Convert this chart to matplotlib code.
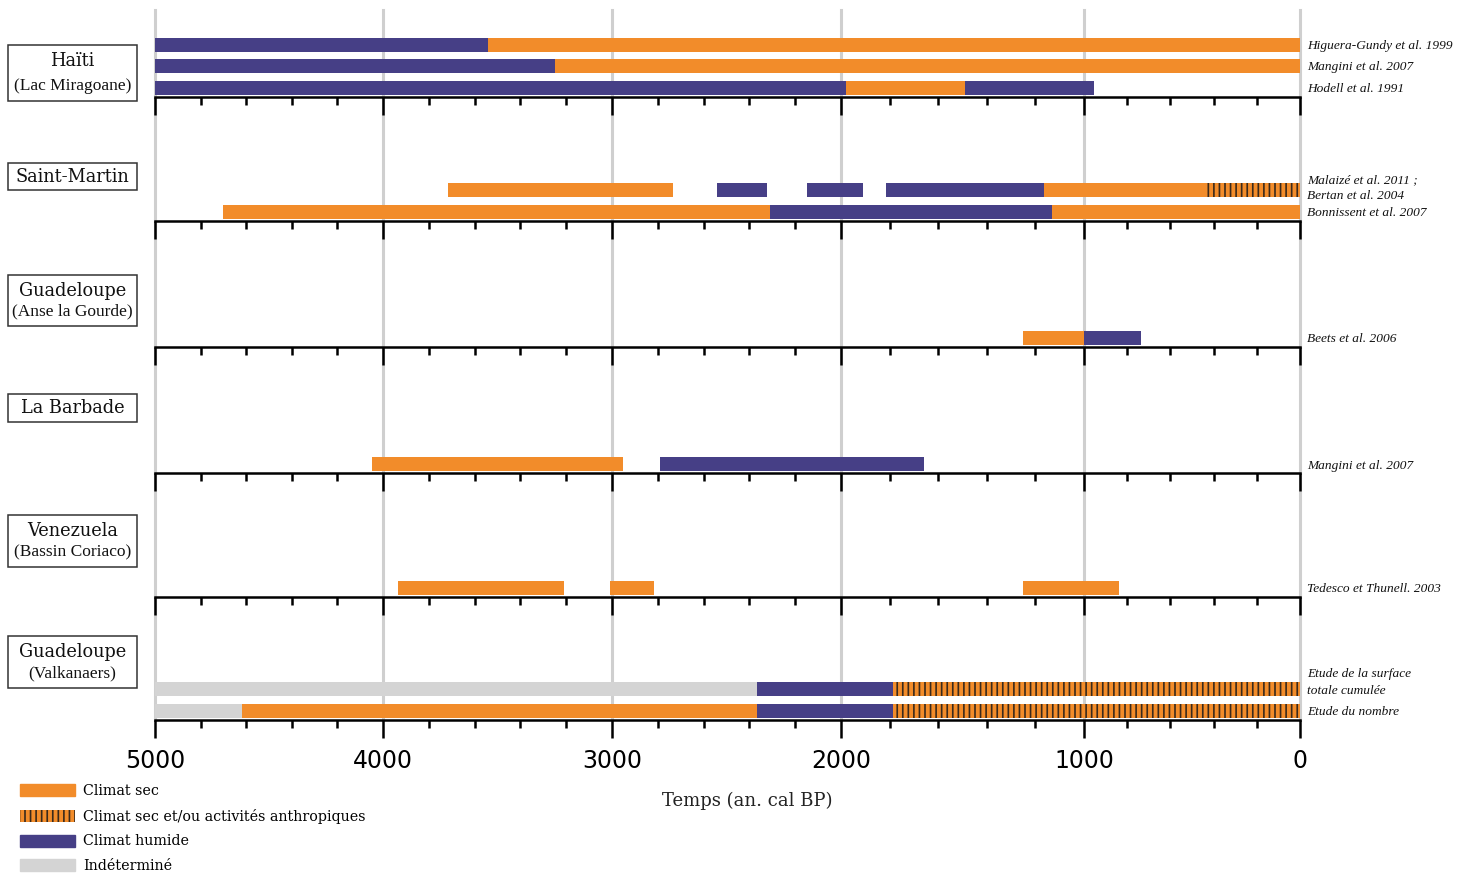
import numpy as np
import matplotlib
matplotlib.use("Agg")
import matplotlib.pyplot as plt
from matplotlib.patches import Patch, Rectangle
from matplotlib.transforms import blended_transform_factory

# --- data (years cal BP, start -> end, climate kind) ---
panel_titles = ["Haïti", "Saint-Martin", "Guadeloupe", "La Barbade", "Venezuela", "Guadeloupe"]
panel_subtitles = ["(Lac Miragoane)", "", "(Anse la Gourde)", "", "(Bassin Coriaco)", "(Valkanaers)"]

haiti_refs = ["Higuera-Gundy et al. 1999", "Mangini et al. 2007", "Hodell et al. 1991"]
haiti_segments = [
    [(5000, 3540, "humide"), (3540, 0, "sec")],
    [(5000, 3250, "humide"), (3250, 0, "sec")],
    [(5000, 1980, "humide"), (1980, 1490, "sec"), (1490, 955, "humide")],
]

stmartin_refs = ["Malaizé et al. 2011 ;\nBertan et al. 2004", "Bonnissent et al. 2007"]
stmartin_segments = [
    [(3715, 2735, "sec"), (2540, 2325, "humide"), (2150, 1910, "humide"),
     (1815, 1165, "humide"), (1165, 430, "sec"), (430, 0, "anthro")],
    [(4700, 2310, "sec"), (2310, 1130, "humide"), (1130, 0, "sec")],
]

anse_refs = ["Beets et al. 2006"]
anse_segments = [[(1250, 1000, "sec"), (1000, 735, "humide")]]

barbade_refs = ["Mangini et al. 2007"]
barbade_segments = [[(4050, 2950, "sec"), (2790, 1660, "humide")]]

venezuela_refs = ["Tedesco et Thunell. 2003"]
venezuela_segments = [[(3935, 3210, "sec"), (3010, 2815, "sec"), (1250, 840, "sec")]]

valk_refs = ["Etude de la surface\ntotale cumulée", "Etude du nombre"]
valk_segments = [
    [(5000, 2365, "indet"), (2365, 1785, "humide"), (1785, 0, "anthro")],
    [(5000, 4620, "indet"), (4620, 2365, "sec"), (2365, 1785, "humide"), (1785, 0, "anthro")],
]

major_years = [5000, 4000, 3000, 2000, 1000, 0]
legend_labels = ["Climat sec", "Climat sec et/ou activités anthropiques", "Climat humide", "Indéterminé"]

panels = [
    (haiti_refs, haiti_segments),
    (stmartin_refs, stmartin_segments),
    (anse_refs, anse_segments),
    (barbade_refs, barbade_segments),
    (venezuela_refs, venezuela_segments),
    (valk_refs, valk_segments),
]

# --- styling ---
ORANGE = "#F28C2A"
PURPLE = "#463F86"
GREY = "#D4D4D4"
HATCH_EC = "#3a2a1c"
styles = {
    "sec": dict(color=ORANGE),
    "humide": dict(color=PURPLE),
    "indet": dict(color=GREY),
    "anthro": dict(facecolor=ORANGE, edgecolor=HATCH_EC, hatch="|||", linewidth=0),
}
plt.rcParams["hatch.linewidth"] = 1.2

W, H = 1480, 874
fx = lambda x: x / W
fy = lambda y: 1 - y / H

# the printed axis is slightly uneven, warp the scale to follow it
warp_years = [-1000, 0, 1000, 2000, 3000, 4000, 5000, 6000]
warp_px = [-216, 0, 216, 459, 688, 917, 1145, 1374]
fwd = lambda v: np.interp(v, warp_years, warp_px)
inv = lambda p: np.interp(p, warp_px, warp_years)

panel_h = [87, 124, 126, 126, 124, 123]
row_y = [9, 31, 52]        # row centres above each panel's axis line (px)
bar_h = 13.5
two_line_shift = {1: 3.5, 5: 8}   # nudge of the two-line references (px)

fig = plt.figure(figsize=(W / 100, H / 100), dpi=100)
gs = fig.add_gridspec(6, 1, height_ratios=panel_h, hspace=0,
                      left=fx(155), right=fx(1300), top=fy(10), bottom=fy(720))

axes = []
for i, (refs, segs) in enumerate(panels):
    ax = fig.add_subplot(gs[i], sharex=axes[0] if axes else None)
    axes.append(ax)
    ax.set_zorder(10 - i)   # upper panels on top so their ticks are not hidden
    ax.set_xscale("function", functions=(fwd, inv))
    ax.set_ylim(0, panel_h[i])
    for v in major_years:
        ax.axvline(v, color="#cfcfcf", lw=2.2, zorder=0, clip_on=False)
    n = len(segs)
    for r, row in enumerate(segs):
        yc = row_y[n - 1 - r]
        for start, end, kind in row:
            ax.barh(yc, start - end, left=end, height=bar_h, zorder=2, **styles[kind])
    tr = blended_transform_factory(ax.transAxes, ax.transData)
    for r, ref in enumerate(refs):
        yc = row_y[n - 1 - r]
        dy = two_line_shift.get(i, 0) if "\n" in ref else 0
        ax.text(1.006, yc - 1.5 + dy, ref, transform=tr, ha="left", va="center",
                family="Liberation Serif", style="italic", fontsize=9.6,
                color="#111111", linespacing=1.45)
    for s in ["top", "left", "right"]:
        ax.spines[s].set_visible(False)
    ax.spines["bottom"].set_linewidth(1.8)
    ax.spines["bottom"].set_zorder(3)
    ax.set_yticks([])
    ax.set_xticks(major_years)
    ax.set_xticks(np.arange(0, 5001, 200), minor=True)
    ax.tick_params(axis="x", which="major", length=13, width=1.8, direction="out",
                   labelbottom=(i == 5), labelsize=17, pad=8)
    ax.tick_params(axis="x", which="minor", length=6, width=1.8, direction="out")
    ax.patch.set_visible(False)

axes[0].set_xlim(5000, 0)
axes[-1].set_xticklabels([str(v) for v in major_years])

# boxed site names on the left
boxes = [(45, 101), (163, 190), (275, 326), (394, 422), (515, 567), (636, 688)]
for (top, bot), title, sub in zip(boxes, panel_titles, panel_subtitles):
    fig.add_artist(Rectangle((fx(8), fy(bot)), fx(137) - fx(8), fy(top) - fy(bot),
                             transform=fig.transFigure, fill=False, ec="#333333", lw=1.1))
    if sub:
        fig.text(fx(72.5), fy(top + 16), title, ha="center", va="center",
                 family="DejaVu Serif", fontsize=12.8, color="#111111")
        fig.text(fx(72.5), fy(bot - 15), sub, ha="center", va="center",
                 family="Liberation Serif", fontsize=12.5, color="#111111")
    else:
        fig.text(fx(72.5), fy((top + bot) / 2), title, ha="center", va="center",
                 family="DejaVu Serif", fontsize=12.8, color="#111111")

fig.text(fx(747), fy(801), "Temps (an. cal BP)", ha="center", va="center",
         family="DejaVu Serif", fontsize=13, color="#222222")

handles = [Patch(**styles["sec"]), Patch(**styles["anthro"]),
           Patch(**styles["humide"]), Patch(**styles["indet"])]
fig.legend(handles, legend_labels, loc="upper left", bbox_to_anchor=(fx(20), fy(784)),
           frameon=False, borderpad=0, borderaxespad=0, handlelength=3.85,
           handleheight=0.91, handletextpad=0.55, labelspacing=0.75,
           prop={"family": "DejaVu Serif", "size": 10.3})

fig.savefig("out.png", dpi=100, facecolor="white")
